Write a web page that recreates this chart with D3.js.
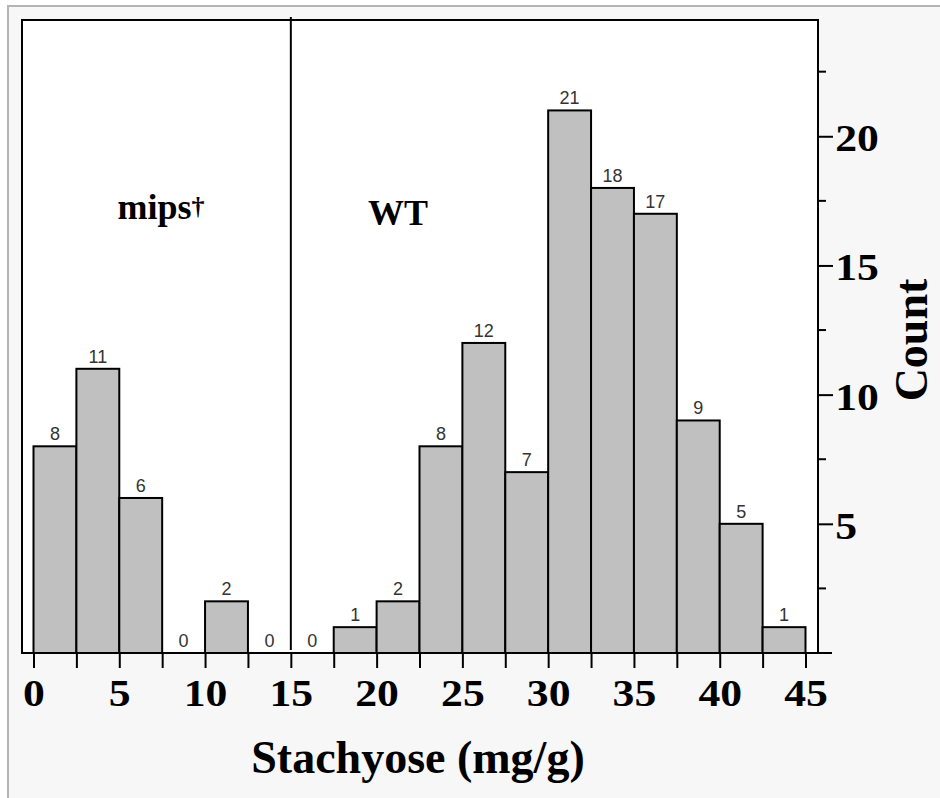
<!DOCTYPE html>
<html lang="en">
<head>
  <meta charset="UTF-8">
  <title>Stachyose histogram</title>
  <style>
    body { margin: 0; background: #fff; }
    svg { display: block; }
  </style>
</head>
<body>
  <svg id="chart" width="940" height="798"></svg>

  <script src="https://cdn.jsdelivr.net/npm/d3@7"></script>
  <script>
    // bins are 2.5 mg/g wide, start value of each bin
    var mipsBins = [0, 2.5, 5, 7.5, 10, 12.5];
    var mipsCounts = [8, 11, 6, 0, 2, 0];
    var wtBins = [15, 17.5, 20, 22.5, 25, 27.5, 30, 32.5, 35, 37.5, 40, 42.5];
    var wtCounts = [0, 1, 2, 8, 12, 7, 21, 18, 17, 9, 5, 1];
    var binWidth = 2.5;

    var xTickValues = [0, 2.5, 5, 7.5, 10, 12.5, 15, 17.5, 20, 22.5, 25, 27.5, 30, 32.5, 35, 37.5, 40, 42.5, 45];
    var xLabelValues = [0, 5, 10, 15, 20, 25, 30, 35, 40, 45];
    var yTickValues = [5, 10, 15, 20];
    var yMinorValues = [2.5, 7.5, 12.5, 17.5, 22.5];

    var serif = "'Liberation Serif', 'Times New Roman', serif",
        sans = "'Liberation Sans', Arial, sans-serif";

    // note: "top" is reserved on window, so plot edges get a prefix
    var svg = d3.select("#chart"),
        pLeft = 22, pRight = 818, pTop = 20, pBottom = 653;

    var x = d3.scaleLinear().domain([0, 45]).range([33.5, 805.5]),
        y = d3.scaleLinear().domain([0, 24.5]).range([pBottom, pTop]);

    // page background and its border
    svg.append("rect")
      .attr("x", 8).attr("y", 6).attr("width", 940).attr("height", 800)
      .attr("fill", "#f7f7f7").attr("stroke", "#b4b4b4").attr("stroke-width", 2);

    // plot box
    svg.append("rect")
      .attr("x", pLeft).attr("y", pTop)
      .attr("width", pRight - pLeft).attr("height", pBottom - pTop)
      .attr("fill", "#fff").attr("stroke", "#000").attr("stroke-width", 2);

    var data = mipsBins.map(function (b, i) { return {x0: b, n: mipsCounts[i]}; })
      .concat(wtBins.map(function (b, i) { return {x0: b, n: wtCounts[i]}; }));

    svg.append("g").selectAll("rect")
      .data(data.filter(function (d) { return d.n > 0; }))
      .enter().append("rect")
      .attr("x", function (d) { return x(d.x0); })
      .attr("y", function (d) { return y(d.n); })
      .attr("width", function (d) { return x(d.x0 + binWidth) - x(d.x0); })
      .attr("height", function (d) { return y(0) - y(d.n); })
      .attr("fill", "#c0c0c0")
      .attr("stroke", "#000")
      .attr("stroke-width", 2);

    svg.append("g").selectAll("text")
      .data(data)
      .enter().append("text")
      .attr("x", function (d) { return x(d.x0 + binWidth / 2); })
      .attr("y", function (d) { return y(d.n) - 6; })
      .attr("text-anchor", "middle")
      .attr("font-family", sans)
      .attr("font-size", 18)
      .attr("fill", "#333")
      .text(function (d) { return d.n; });

    // separator between the two groups
    svg.append("line")
      .attr("x1", x(15)).attr("x2", x(15))
      .attr("y1", pTop - 3).attr("y2", pBottom - 3)
      .attr("stroke", "#000").attr("stroke-width", 2);

    // bottom axis
    var xAxis = svg.append("g")
      .attr("transform", "translate(0," + pBottom + ")")
      .call(d3.axisBottom(x).tickValues(xTickValues).tickSize(15).tickSizeOuter(0)
        .tickFormat(function (d) { return xLabelValues.indexOf(d) >= 0 ? d : ""; }));
    xAxis.select(".domain").attr("d", "M" + pLeft + ",0H832").attr("stroke-width", 2);
    xAxis.selectAll(".tick line").attr("stroke-width", 2);
    xAxis.selectAll(".tick text")
      .attr("y", 53).attr("dy", 0)
      .attr("font-family", serif).attr("font-weight", "bold").attr("font-size", 38)
      .attr("fill", "#000")
      .attr("transform", "scale(1.15,1)");

    // right axis
    var yAxis = svg.append("g")
      .attr("transform", "translate(" + pRight + ",0)")
      .call(d3.axisRight(y).tickValues(yTickValues).tickSize(15).tickSizeOuter(0));
    yAxis.select(".domain").attr("d", "M0," + pTop + "V" + pBottom).attr("stroke-width", 2);
    yAxis.selectAll(".tick line").attr("stroke-width", 2);
    yAxis.selectAll(".tick text")
      .attr("x", 15).attr("dy", "0.38em")
      .attr("font-family", serif).attr("font-weight", "bold").attr("font-size", 38)
      .attr("fill", "#000")
      .attr("transform", "scale(1.15,1)");
    yAxis.append("g").selectAll("line")
      .data(yMinorValues)
      .enter().append("line")
      .attr("x1", 0).attr("x2", 8)
      .attr("y1", function (d) { return y(d); })
      .attr("y2", function (d) { return y(d); })
      .attr("stroke", "#000").attr("stroke-width", 2);

    // group labels
    var mips = svg.append("text")
      .attr("x", x(4.9)).attr("y", 219)
      .attr("font-family", serif).attr("font-weight", "bold").attr("font-size", 36)
      .text("mips");
    mips.append("tspan").attr("font-size", 26).attr("dy", -4).text("\u2020");

    svg.append("text")
      .attr("x", x(19.5)).attr("y", 225)
      .attr("font-family", serif).attr("font-weight", "bold").attr("font-size", 36)
      .text("WT");

    // axis titles
    svg.append("text")
      .attr("x", 418).attr("y", 773)
      .attr("text-anchor", "middle")
      .attr("font-family", serif).attr("font-weight", "bold").attr("font-size", 46)
      .text("Stachyose (mg/g)");

    svg.append("text")
      .attr("transform", "translate(927,340) rotate(-90)")
      .attr("text-anchor", "middle")
      .attr("font-family", serif).attr("font-weight", "bold").attr("font-size", 46)
      .text("Count");
  </script>
</body>
</html>
